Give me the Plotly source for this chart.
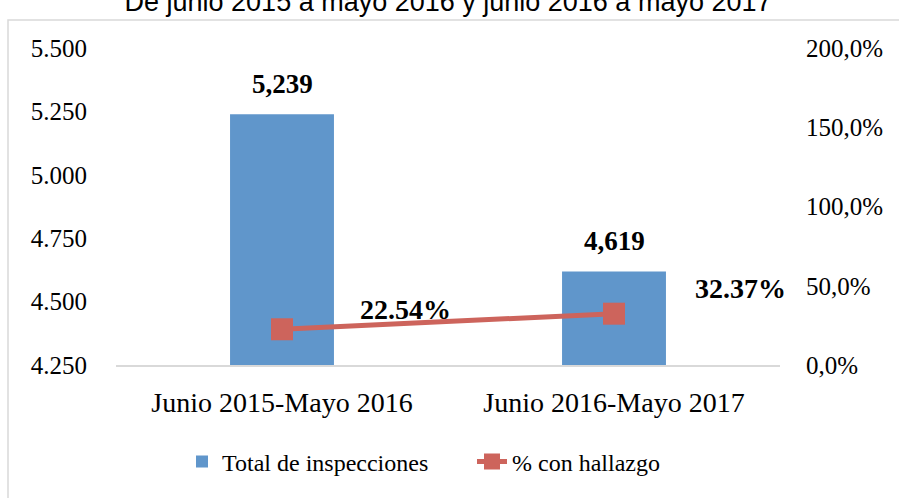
import plotly.graph_objects as go

categories = ["Junio 2015-Mayo 2016", "Junio 2016-Mayo 2017"]
total_inspecciones = [5239, 4619]
pct_hallazgo = [0.2254, 0.3237]
bar_labels = ["5,239", "4,619"]
pct_labels = ["22.54%", "32.37%"]
left_ticks = [4250, 4500, 4750, 5000, 5250, 5500]
left_ticktext = ["4.250", "4.500", "4.750", "5.000", "5.250", "5.500"]
right_ticks = [0, 0.5, 1.0, 1.5, 2.0]
right_ticktext = ["0,0%", "50,0%", "100,0%", "150,0%", "200,0%"]
title_text = "De junio 2015 a mayo 2016 y junio 2016 a mayo 2017"

SERIF = "Liberation Serif"
BAR_C = "#6096CB"
LINE_C = "#CD645C"

L, R, T, B = 116, 119, 48, 133
PW = 899 - L - R
PH = 498 - T - B

fig = go.Figure()
fig.add_trace(go.Bar(
    x=categories, y=total_inspecciones, name="Total de inspecciones",
    marker=dict(color=BAR_C, line=dict(width=0)),
    width=0.313,
))
fig.add_trace(go.Scatter(
    x=categories, y=pct_hallazgo, name="% con hallazgo", yaxis="y2",
    mode="lines+markers",
    line=dict(color=LINE_C, width=5),
    marker=dict(symbol="square", size=22, color=LINE_C),
))

# bar value labels above bars
for c, v, t in zip(categories, total_inspecciones, bar_labels):
    fig.add_annotation(
        x=c, y=v, xref="x", yref="y", text="<b>" + t + "</b>",
        showarrow=False, yshift=30, yanchor="middle",
        font=dict(family=SERIF, size=27, color="black"),
    )

# percent labels, offset right of each point
for i, (c, v, t) in enumerate(zip(categories, pct_hallazgo, pct_labels)):
    fig.add_annotation(
        x=c, y=v, xref="x", yref="y2", text="<b>" + t + "</b>",
        showarrow=False, xshift=[123, 126][i], yshift=[20, 25][i],
        yanchor="middle",
        font=dict(family=SERIF, size=28, color="black"),
    )

fig.add_shape(type="rect", xref="paper", yref="paper",
              x0=(8 - L) / PW, x1=1.4, y0=-0.6, y1=(498 - B - 20) / PH,
              line=dict(color="#d9d9d9", width=1.5), layer="below")

fig.update_layout(
    width=899, height=498,
    margin=dict(l=L, r=R, t=T, b=B, autoexpand=False),
    paper_bgcolor="white", plot_bgcolor="white",
    font=dict(family=SERIF, size=24, color="black"),
    title=dict(text=title_text, x=0.5, xanchor="center", xref="paper",
               y=1 - 1.5 / 498, yref="container", yanchor="middle",
               font=dict(family="Liberation Sans", size=27, color="black")),
    showlegend=True,
    legend=dict(orientation="h", x=(182 - L) / PW, xanchor="left",
                y=(498 - B - 462) / PH, yanchor="middle",
                font=dict(family=SERIF, size=24, color="black"),
                entrywidth=245, entrywidthmode="pixels",
                traceorder="normal"),
    xaxis=dict(range=[-0.5, 1.5], showgrid=False, showline=True,
               linecolor="#d9d9d9", linewidth=1.5,
               ticks="", ticklabelstandoff=12,
               tickfont=dict(family=SERIF, size=28)),
    yaxis=dict(range=[4250, 5500], tickvals=left_ticks, ticktext=left_ticktext,
               showgrid=False, zeroline=False, showline=False, ticks="",
               ticklabelstandoff=28,
               tickfont=dict(family=SERIF, size=25)),
    yaxis2=dict(range=[0, 2.0], tickvals=right_ticks, ticktext=right_ticktext,
                overlaying="y", side="right", showgrid=False, zeroline=False,
                showline=False, ticks="", ticklabelstandoff=25,
                tickfont=dict(family=SERIF, size=25)),
)

fig.write_html("out.html", config={"displayModeBar": False},
               post_script="document.body.style.margin='0px';")
